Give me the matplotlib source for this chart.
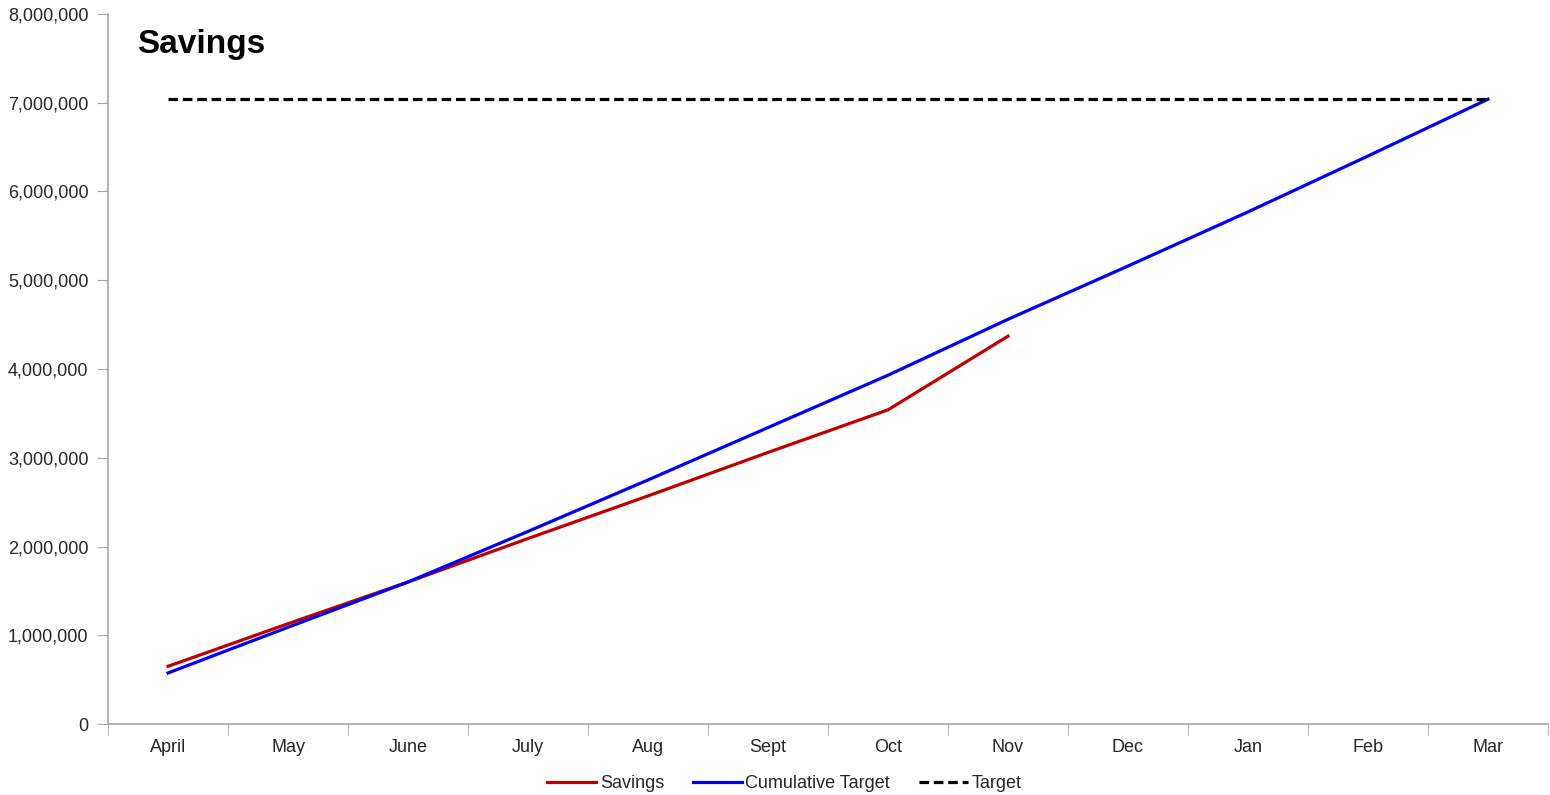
import matplotlib.pyplot as plt
from matplotlib.ticker import FuncFormatter, FixedLocator

# Data
months = ['April', 'May', 'June', 'July', 'Aug', 'Sept', 'Oct', 'Nov', 'Dec', 'Jan', 'Feb', 'Mar']
savings = [650000, 1130000, 1600000, 2090000, 2570000, 3060000, 3540000, 4370000]
cumulative_target = [575000, 1090000, 1600000, 2170000, 2750000, 3340000, 3930000, 4560000,
                     5160000, 5770000, 6400000, 7040000]
target = [7040000] * len(months)

plt.rcParams['font.family'] = ['Liberation Sans', 'DejaVu Sans']

fig = plt.figure(figsize=(15.5, 7.95), dpi=100)
ax = fig.add_axes([0.0697, 0.0893, 0.929, 0.8931])

x = list(range(len(months)))
ax.plot(x[:len(savings)], savings, color='#C00000', lw=2.3, label='Savings')
ax.plot(x, cumulative_target, color='#0000FF', lw=2.3, label='Cumulative Target')
ax.plot(x, target, color='black', lw=2.3, ls=(0, (3.0, 1.5)), label='Target')

ax.set_xlim(-0.5, len(months) - 0.5)
ax.set_ylim(0, 8000000)
ax.set_yticks(range(0, 8000001, 1000000))
ax.yaxis.set_major_formatter(FuncFormatter(lambda v, p: f'{int(v):,}'))

# category labels in the middle, ticks at the boundaries
ax.set_xticks(x)
ax.set_xticklabels(months)
ax.xaxis.set_minor_locator(FixedLocator([i - 0.5 for i in range(len(months) + 1)]))
ax.tick_params(axis='x', which='major', length=0, pad=11)
ax.tick_params(axis='x', which='minor', length=8, color='#A6A6A6')
ax.tick_params(axis='y', length=8, color='#A6A6A6', pad=6)
ax.tick_params(labelsize=13, labelcolor='#262626')

for s in ['top', 'right']:
    ax.spines[s].set_visible(False)
for s in ['left', 'bottom']:
    ax.spines[s].set_color('#A6A6A6')
    ax.spines[s].set_linewidth(1.2)

ax.text(0.0201, 0.957, 'Savings', transform=ax.transAxes, fontsize=24, fontweight='bold',
        va='center', ha='left')

fig.legend(loc='center', bbox_to_anchor=(0.506, 0.014), ncol=3, frameon=False, fontsize=13,
           handlelength=2.7, handletextpad=0.2, columnspacing=1.6, labelcolor='#262626')

fig.savefig('out.png', dpi=100)
